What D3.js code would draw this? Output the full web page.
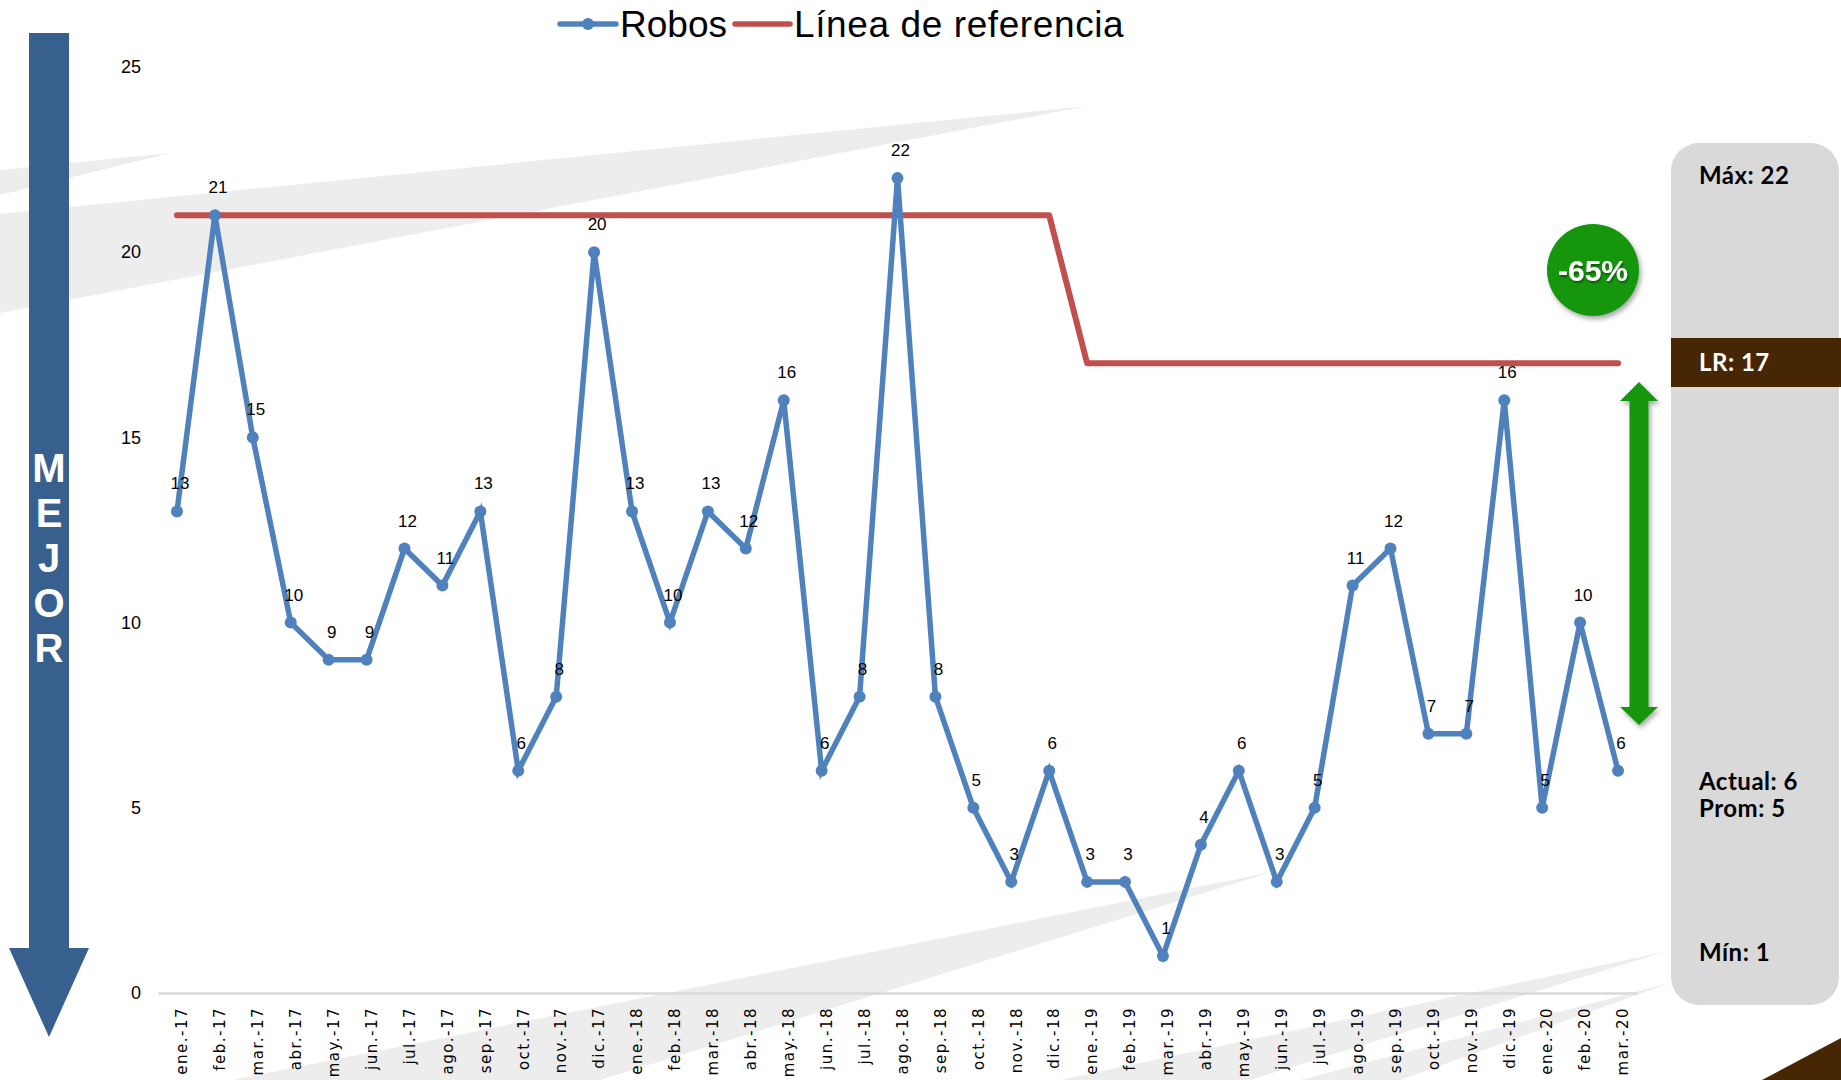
<!DOCTYPE html>
<html>
<head>
<meta charset="utf-8">
<script src="https://cdn.jsdelivr.net/npm/d3@7"></script>
<style>
  html, body { margin: 0; padding: 0; background: #ffffff; }
  svg { display: block; }
</style>
</head>
<body>
<svg id="chart" width="1841" height="1080"></svg>
<script>
// ---------- DATA ----------
const months = [
  "ene.-17","feb.-17","mar.-17","abr.-17","may.-17","jun.-17","jul.-17","ago.-17","sep.-17","oct.-17","nov.-17","dic.-17",
  "ene.-18","feb.-18","mar.-18","abr.-18","may.-18","jun.-18","jul.-18","ago.-18","sep.-18","oct.-18","nov.-18","dic.-18",
  "ene.-19","feb.-19","mar.-19","abr.-19","may.-19","jun.-19","jul.-19","ago.-19","sep.-19","oct.-19","nov.-19","dic.-19",
  "ene.-20","feb.-20","mar.-20"
];
const robos = [
  13,21,15,10,9,9,12,11,13,6,8,20,
  13,10,13,12,16,6,8,22,8,5,3,6,
  3,3,1,4,6,3,5,11,12,7,7,16,
  5,10,6
];
const lineaReferencia = [
  21,21,21,21,21,21,21,21,21,21,21,21,
  21,21,21,21,21,21,21,21,21,21,21,21,
  17,17,17,17,17,17,17,17,17,17,17,17,
  17,17,17
];
const yTicks = [0,5,10,15,20,25];
const seriesNames = ["Robos","Línea de referencia"];
const panelLabels = { max: "Máx: 22", lr: "LR: 17", actual: "Actual: 6", prom: "Prom: 5", min: "Mín: 1" };
const changeLabel = "-65%";
const sideWord = ["M","E","J","O","R"];

// ---------- SETUP ----------
const svg = d3.select("#chart");
const blue = "#4F81BD", red = "#C0504D", green = "#15960F";

const defs = svg.append("defs");
const sh = defs.append("filter").attr("id","shadow").attr("x","-30%").attr("y","-30%").attr("width","160%").attr("height","160%");
sh.append("feDropShadow").attr("dx",2).attr("dy",3).attr("stdDeviation",2.5).attr("flood-color","#000").attr("flood-opacity",0.35);
const tsh = defs.append("filter").attr("id","tshadow");
tsh.append("feDropShadow").attr("dx",1).attr("dy",2).attr("stdDeviation",1.2).attr("flood-color","#000").attr("flood-opacity",0.45);

// background wedges
const wedges = [
  [[0,170],[170,153],[0,195]],
  [[0,214],[1088,106],[0,313]],
  [[1272,872],[232,1080],[600,1080]],
  [[1664,952],[1060,1080],[1250,1080]],
  [[1673,982],[1300,1080],[1400,1080]]
];
svg.append("g").selectAll("path").data(wedges).join("path")
  .attr("d", d => "M" + d.map(p => p.join(",")).join("L") + "Z")
  .attr("fill", "#EDEDED");
// brown corner
svg.append("path").attr("d","M1762,1080L1841,1038L1841,1080Z").attr("fill","#472603");

// ---------- SCALES ----------
const x = d3.scaleBand().domain(months).range([158, 1637]).padding(0);
const cx = d => x(d) + x.bandwidth()/2;
const y = d3.scaleLinear().domain([0, 25]).range([993, 67]);

// y axis
const yAxis = svg.append("g").attr("transform","translate(158,0)")
  .call(d3.axisLeft(y).tickValues(yTicks).tickSize(0).tickPadding(17));
yAxis.select(".domain").remove();
yAxis.selectAll("text").attr("font-family","'Liberation Sans', Arial, sans-serif").attr("font-size",18).attr("fill","#000");

// x axis
const xAxis = svg.append("g").attr("transform","translate(0,993)")
  .call(d3.axisBottom(x).tickSize(0));
xAxis.select(".domain").attr("stroke","#D9D9D9").attr("stroke-width",2.5);
xAxis.selectAll("text")
  .attr("transform","rotate(-90)")
  .attr("text-anchor","end")
  .attr("x",-14).attr("y",5).attr("dy","0.35em")
  .attr("font-family","'DejaVu Sans', sans-serif").attr("font-size",15)
  .attr("letter-spacing","1.5px").attr("fill","#000");

// reference line
const refData = months.map((m,i) => ({m, v: lineaReferencia[i]}));
svg.append("path").datum(refData)
  .attr("d", d3.line().x(d => cx(d.m)).y(d => y(d.v)))
  .attr("fill","none").attr("stroke",red).attr("stroke-width",6)
  .attr("stroke-linecap","round").attr("stroke-linejoin","round");

// robos line
const robData = months.map((m,i) => ({m, v: robos[i]}));
svg.append("path").datum(robData)
  .attr("d", d3.line().x(d => cx(d.m)).y(d => y(d.v)))
  .attr("fill","none").attr("stroke",blue).attr("stroke-width",5.5)
  .attr("stroke-linejoin","miter").attr("stroke-miterlimit",4);
svg.append("g").selectAll("circle").data(robData).join("circle")
  .attr("cx", d => cx(d.m)).attr("cy", d => y(d.v)).attr("r",6).attr("fill",blue);
svg.append("g").selectAll("text").data(robData).join("text")
  .attr("x", d => cx(d.m) + 3).attr("y", d => y(d.v) - 22)
  .attr("text-anchor","middle")
  .attr("font-family","'Liberation Sans', Arial, sans-serif").attr("font-size",17).attr("fill","#000")
  .text(d => d.v);

// legend
const legend = svg.append("g");
const legItems = [
  {name: seriesNames[0], color: blue, x1: 560, x2: 616, tx: 620, marker: true, ls: 0},
  {name: seriesNames[1], color: red, x1: 735, x2: 790, tx: 794, marker: false, ls: 0.6}
];
legItems.forEach(it => {
  legend.append("line").attr("x1",it.x1).attr("x2",it.x2).attr("y1",24).attr("y2",24)
    .attr("stroke",it.color).attr("stroke-width",5.5).attr("stroke-linecap","round");
  if (it.marker) legend.append("circle").attr("cx",(it.x1+it.x2)/2).attr("cy",24).attr("r",6).attr("fill",it.color);
  legend.append("text").attr("x",it.tx).attr("y",37)
    .attr("font-family","'Liberation Sans', Arial, sans-serif").attr("font-size",37).attr("fill","#000")
    .attr("letter-spacing", it.ls + "px")
    .text(it.name);
});

// left "MEJOR" arrow
const la = svg.append("g");
la.append("path").attr("d","M29,33H69V948H89L49,1037L9,948H29Z").attr("fill","#37608F");
la.selectAll("text").data(sideWord).join("text")
  .attr("x",49).attr("y",(d,i) => 482 + i*45)
  .attr("text-anchor","middle")
  .attr("font-family","'Liberation Sans', Arial, sans-serif").attr("font-weight","bold").attr("font-size",40)
  .attr("fill","#fff").text(d => d);

// right panel
const panel = svg.append("g");
panel.append("rect").attr("x",1671).attr("y",143).attr("width",168).attr("height",862).attr("rx",28).attr("fill","#D9D9D9");
panel.append("rect").attr("x",1671).attr("y",338).attr("width",170).attr("height",49).attr("fill","#472603");
const pfont = "Lato, 'Noto Sans', sans-serif";
const ptexts = [
  {t: panelLabels.max, y: 184, c: "#000"},
  {t: panelLabels.lr, y: 371, c: "#fff"},
  {t: panelLabels.actual, y: 790, c: "#000"},
  {t: panelLabels.prom, y: 817, c: "#000"},
  {t: panelLabels.min, y: 961, c: "#000"}
];
panel.selectAll("text").data(ptexts).join("text")
  .attr("x",1699).attr("y",d => d.y)
  .attr("font-family",pfont).attr("font-weight","bold").attr("font-size",24)
  .attr("letter-spacing","0.5px")
  .attr("fill",d => d.c).text(d => d.t);

// green circle
svg.append("circle").attr("cx",1593).attr("cy",270).attr("r",46).attr("fill",green).attr("filter","url(#shadow)");
svg.append("text").attr("x",1593).attr("y",281).attr("text-anchor","middle")
  .attr("font-family","'Liberation Sans', Arial, sans-serif").attr("font-weight","bold").attr("font-size",30)
  .attr("fill","#fff").attr("filter","url(#tshadow)").text(changeLabel);

// green double arrow (spans LR to actual value)
const ax = 1639;
svg.append("path")
  .attr("d", `M${ax},382L${ax+19},401H${ax+9.5}V707H${ax+19}L${ax},725L${ax-19},707H${ax-9.5}V401H${ax-19}Z`)
  .attr("fill",green).attr("filter","url(#shadow)");
</script>
</body>
</html>
